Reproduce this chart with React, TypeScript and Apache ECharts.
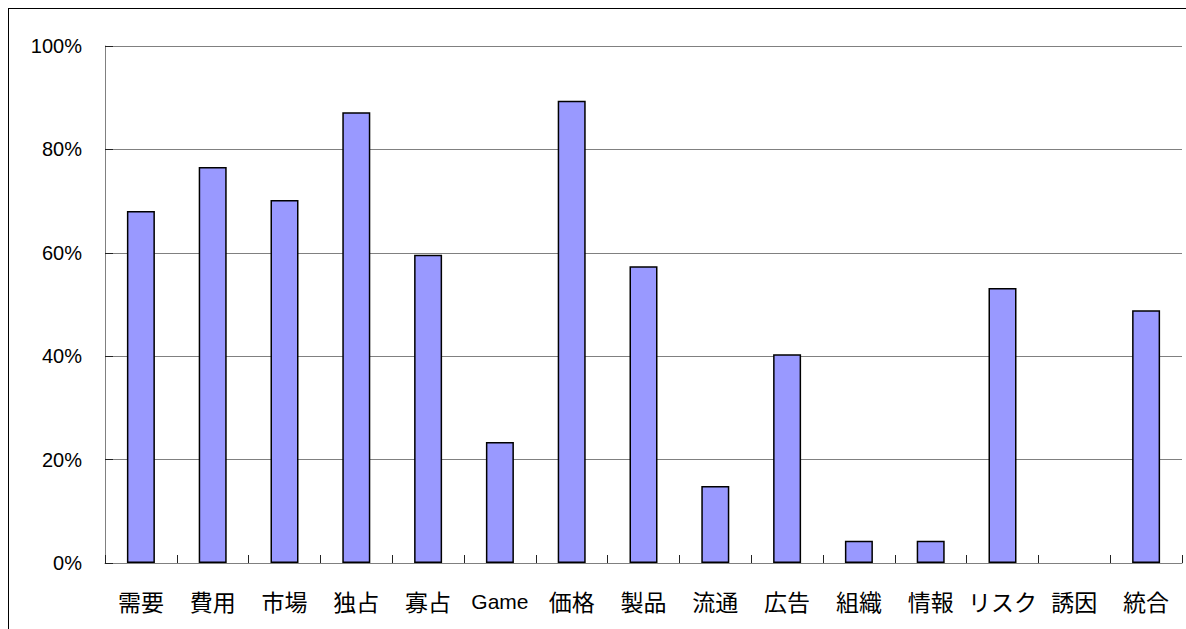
import React, { useEffect, useRef } from "react";
import * as echarts from "echarts";

const categories = ["需要", "費用", "市場", "独占", "寡占", "Game", "価格", "製品", "流通", "広告", "組織", "情報", "リスク", "誘因", "統合"];
const values = [68.1, 76.6, 70.2, 87.2, 59.6, 23.4, 89.4, 57.4, 14.9, 40.4, 4.3, 4.3, 53.2, 0, 48.9];
const yTicks = [0, 20, 40, 60, 80, 100];

const LATIN = "'Liberation Sans', 'Noto Sans CJK JP', sans-serif";
const CJK = "'Noto Sans CJK JP', 'Liberation Sans', sans-serif";

export default function App() {
  const ref = useRef<HTMLDivElement>(null);
  useEffect(() => {
    if (!ref.current) return;
    const chart = echarts.init(ref.current, null, { renderer: "svg" });
    chart.setOption({
      animation: false,
      backgroundColor: "#ffffff",
      grid: { left: 96, top: 37, width: 1077, height: 517 },
      xAxis: {
        type: "category",
        data: categories,
        axisLine: { show: true, lineStyle: { color: "#808080", width: 1 } },
        axisTick: { show: true, inside: true, length: 8, interval: 0, alignWithLabel: false, lineStyle: { color: "#222", width: 1 } },
        axisLabel: {
          interval: 0,
          margin: 24,
          color: "#000",
          fontSize: 22,
          lineHeight: 28,
          fontFamily: CJK,
          formatter: (v: string) => (/^[A-Za-z]+$/.test(v) ? `{lat|${v}}` : `{cjk|${v}}`),
          rich: {
            lat: { fontSize: 21, lineHeight: 28, fontFamily: LATIN, color: "#000", verticalAlign: "middle" },
            cjk: { fontSize: 23, lineHeight: 28, fontFamily: CJK, color: "#000", verticalAlign: "middle" },
          },
        },
        splitLine: { show: false },
      },
      yAxis: {
        type: "value",
        min: yTicks[0],
        max: yTicks[yTicks.length - 1],
        interval: 20,
        axisLine: { show: true, lineStyle: { color: "#808080", width: 1 } },
        axisTick: { show: true, inside: true, length: 8, lineStyle: { color: "#222", width: 1 } },
        axisLabel: { margin: 23, color: "#000", fontSize: 20, fontFamily: LATIN, formatter: (v: number) => `${v}%` },
        splitLine: { show: true, lineStyle: { color: "#808080", width: 1 } },
      },
      series: [
        {
          type: "bar",
          data: values.map((v) => (v === 0 ? { value: v, itemStyle: { borderWidth: 0 } } : v)),
          barWidth: "39%",
          itemStyle: { color: "#9999FF", borderColor: "#000", borderWidth: 1.5 },
        },
      ],
    });
    return () => chart.dispose();
  }, []);
  return (
    <div style={{ position: "absolute", left: 8, top: 8, width: 1178, height: 621, overflow: "hidden" }}>
      <div style={{ width: 1200, height: 640, borderTop: "1px solid #000", borderLeft: "1px solid #000", background: "#fff" }}>
        <div ref={ref} style={{ width: 1200, height: 640 }} />
      </div>
    </div>
  );
}
